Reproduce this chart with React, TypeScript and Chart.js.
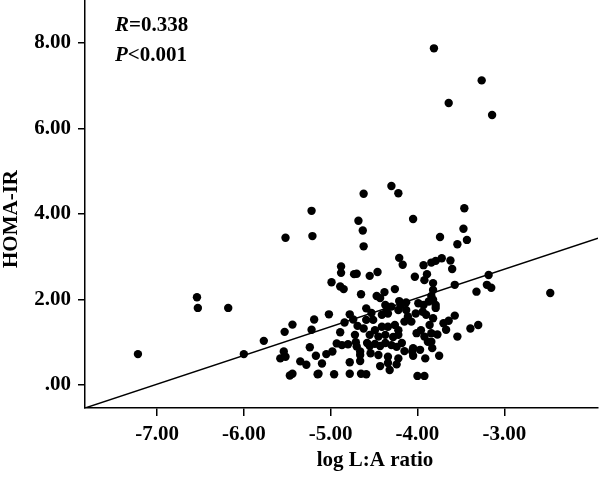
import React, { useEffect, useRef } from "react";
import { Chart, registerables } from "chart.js";

Chart.register(...registerables);

// log L:A ratio (x) and HOMA-IR (y)
const logLARatio: number[] = [
  -7.22, -6.54, -6.53, -6.18, -6.0, -5.77, -5.53, -5.44, -5.52, -5.22,
  -5.21, -5.54, -5.58, -5.52, -5.35, -5.28, -5.47, -5.44, -5.19, -5.22,
  -5.24, -5.17, -5.15, -3.81, -3.26, -3.64, -3.14, -2.47, -4.62, -4.3,
  -4.22, -4.68, -4.63, -4.62, -4.05, -3.46, -3.47, -3.43, -3.54, -3.74,
  -4.21, -4.17, -4.88, -4.88, -4.73, -4.7, -4.55, -4.46, -4.99, -3.93,
  -3.84, -3.79, -3.72, -3.62, -3.6, -4.03, -3.89, -3.18, -3.2, -3.15,
  -3.57, -3.32, -4.89, -4.85, -4.65, -4.47, -4.38, -4.26, -4.37, -4.21,
  -4.13, -3.99, -3.93, -3.87, -3.82, -3.82, -3.84, -3.82, -3.92, -4.43,
  -4.19, -3.79, -3.79, -5.02, -4.78, -4.74, -4.84, -4.89, -4.62, -5.1,
  -5.05, -4.98, -4.93, -4.87, -4.8, -4.78, -4.66, -4.66, -5.14, -4.96,
  -4.78, -4.65, -4.59, -4.72, -4.54, -4.43, -4.34, -4.32, -4.24, -4.15,
  -4.06, -4.05, -3.97, -3.91, -4.0, -3.92, -3.75, -3.84, -3.83, -3.82,
  -3.57, -3.64, -3.7, -3.67, -3.77, -3.54, -3.39, -3.3, -4.59, -4.53,
  -4.59, -4.51, -4.41, -4.34, -4.3, -4.22, -4.13, -4.11, -4.02, -3.94,
  -3.9, -4.41, -4.34, -4.26, -4.22, -4.49, -4.55, -4.45, -4.37, -4.28,
  -4.22, -4.15, -4.07, -4.01, -3.96, -3.92, -3.86, -3.84, -4.58, -4.55,
  -4.49, -4.43, -4.37, -4.3, -4.24, -4.18, -4.05, -3.88, -4.45, -4.22,
  -4.34, -4.69, -4.71, -4.7, -4.66, -4.36,
];
const homaIR: number[] = [
  0.72, 2.05, 1.8, 1.8, 0.72, 1.03, 1.24, 1.41, 3.44, 4.07,
  3.48, 0.78, 0.62, 0.66, 0.55, 0.47, 0.22, 0.26, 1.53, 1.29,
  0.88, 0.68, 0.25, 7.87, 7.12, 6.59, 6.31, 2.15, 4.47, 4.65,
  4.48, 3.84, 3.61, 3.24, 3.88, 4.13, 3.65, 3.39, 3.29, 3.46,
  2.97, 2.81, 2.77, 2.62, 2.59, 2.6, 2.55, 2.64, 2.4, 2.8,
  2.86, 2.9, 2.96, 2.91, 2.71, 2.53, 2.59, 2.57, 2.34, 2.27,
  2.34, 2.18, 2.3, 2.24, 2.12, 2.08, 2.17, 2.24, 1.87, 1.96,
  1.93, 1.91, 1.87, 1.95, 1.99, 2.22, 2.08, 2.38, 2.45, 2.03,
  1.87, 1.87, 1.8, 1.65, 1.65, 1.53, 1.46, 1.23, 1.32, 0.5,
  0.72, 0.78, 0.97, 0.93, 0.95, 0.53, 0.7, 0.56, 0.26, 0.25,
  0.26, 0.26, 0.25, 1.17, 0.74, 0.44, 0.66, 0.35, 0.48, 0.79,
  0.78, 0.68, 0.82, 0.62, 0.21, 0.21, 0.68, 1.01, 0.86, 1.56,
  1.62, 1.5, 1.44, 1.29, 1.18, 1.13, 1.32, 1.4, 1.79, 1.68,
  1.52, 1.52, 1.64, 1.67, 1.83, 1.75, 1.75, 1.6, 1.67, 1.71,
  1.64, 1.36, 1.36, 1.4, 1.28, 1.28, 1.17, 1.13, 1.17, 1.12,
  1.17, 1.48, 1.48, 1.21, 1.28, 1.13, 1.4, 1.21, 0.98, 0.91,
  0.96, 0.91, 0.98, 0.93, 0.89, 0.98, 0.86, 1.01, 0.7, 0.62,
  0.51, 1.38, 1.0, 0.9, 0.78, 1.71,
];

const xTickValues = [-7, -6, -5, -4, -3];
const xTickLabels = ["-7.00", "-6.00", "-5.00", "-4.00", "-3.00"];
const yTickValues = [0, 2, 4, 6, 8];
const yTickLabels = [".00", "2.00", "4.00", "6.00", "8.00"];

const xRange = [-7.83, -1.92];
const yRange = [-0.54, 9.0];

// fitted regression line
const fitSlope = 0.672;
const fitIntercept = 4.722;

const xTitle = "log L:A ratio";
const yTitle = "HOMA-IR";
const statR = "0.338";
const statP = "0.001";

const FONT = "'Liberation Serif', 'Times New Roman', serif";

const textPlugin = {
  id: "textPlugin",
  afterDraw(chart: any) {
    const ctx = chart.ctx;
    const area = chart.chartArea;
    ctx.save();
    ctx.fillStyle = "#000";
    ctx.textBaseline = "alphabetic";
    // x title
    ctx.font = `bold 21px ${FONT}`;
    ctx.textAlign = "center";
    ctx.fillText(xTitle, 375, 466);
    // y title
    ctx.save();
    ctx.translate(17, 219);
    ctx.rotate(-Math.PI / 2);
    ctx.fillText(yTitle, 0, 0);
    ctx.restore();
    // stats
    ctx.textAlign = "left";
    const drawStat = (letter: string, rest: string, x: number, y: number) => {
      ctx.font = `italic bold 21px ${FONT}`;
      ctx.fillText(letter, x, y);
      const w = ctx.measureText(letter).width;
      ctx.font = `bold 21px ${FONT}`;
      ctx.fillText(rest, x + w, y);
    };
    drawStat("R", "=" + statR, area.left + 30, 31);
    drawStat("P", "<" + statP, area.left + 30, 61);
    ctx.restore();
  },
};

export default function App() {
  const ref = useRef<HTMLCanvasElement | null>(null);
  useEffect(() => {
    if (!ref.current) return;
    const points = logLARatio.map((x, i) => ({ x, y: homaIR[i] }));
    const line = xRange.map((x) => ({ x, y: fitIntercept + fitSlope * x }));
    const chart = new Chart(ref.current, {
      type: "scatter",
      data: {
        datasets: [
          {
            data: points,
            backgroundColor: "#000",
            borderColor: "#000",
            borderWidth: 0,
            pointRadius: 4.2,
            pointHoverRadius: 4.2,
            clip: false,
          },
          {
            type: "line",
            data: line,
            borderColor: "#000",
            borderWidth: 1.5,
            pointRadius: 0,
            showLine: true,
            fill: false,
          } as any,
        ],
      },
      options: {
        animation: false,
        responsive: false,
        maintainAspectRatio: false,
        events: [],
        layout: { autoPadding: false, padding: { left: 0, right: 2, top: 0, bottom: 0 } },
        plugins: {
          legend: { display: false },
          tooltip: { enabled: false },
          title: { display: false },
        },
        scales: {
          x: {
            type: "linear",
            min: xRange[0],
            max: xRange[1],
            afterBuildTicks: (axis: any) => {
              axis.ticks = xTickValues.map((v) => ({ value: v }));
            },
            afterFit: (s: any) => {
              s.height = 69;
              s.paddingLeft = 0;
              s.paddingRight = 0;
            },
            ticks: {
              color: "#000",
              font: { family: FONT, size: 21, weight: "bold" },
              padding: 6,
              maxRotation: 0,
              autoSkip: false,
              callback: (v: any) => {
                const i = xTickValues.indexOf(Number(v));
                return i >= 0 ? xTickLabels[i] : "";
              },
            },
            grid: {
              drawOnChartArea: false,
              drawTicks: true,
              tickLength: 8,
              color: "#000",
              lineWidth: 1.5,
            },
            border: { display: true, color: "#000", width: 1.5 },
          },
          y: {
            type: "linear",
            min: yRange[0],
            max: yRange[1],
            afterBuildTicks: (axis: any) => {
              axis.ticks = yTickValues.map((v) => ({ value: v }));
            },
            afterFit: (s: any) => {
              s.width = 85;
              s.paddingTop = 0;
              s.paddingBottom = 0;
            },
            ticks: {
              color: "#000",
              font: { family: FONT, size: 21, weight: "bold" },
              padding: 7,
              autoSkip: false,
              callback: (v: any) => {
                const i = yTickValues.indexOf(Number(v));
                return i >= 0 ? yTickLabels[i] : "";
              },
            },
            grid: {
              drawOnChartArea: false,
              drawTicks: true,
              tickLength: 7,
              color: "#000",
              lineWidth: 1.5,
            },
            border: { display: true, color: "#000", width: 1.5 },
          },
        },
      },
      plugins: [textPlugin],
    });
    return () => chart.destroy();
  }, []);
  return (
    <div style={{ position: "absolute", left: 0, top: 0, width: 600, height: 477, background: "#fff" }}>
      <canvas ref={ref} width={600} height={477} style={{ width: 600, height: 477 }} />
    </div>
  );
}
